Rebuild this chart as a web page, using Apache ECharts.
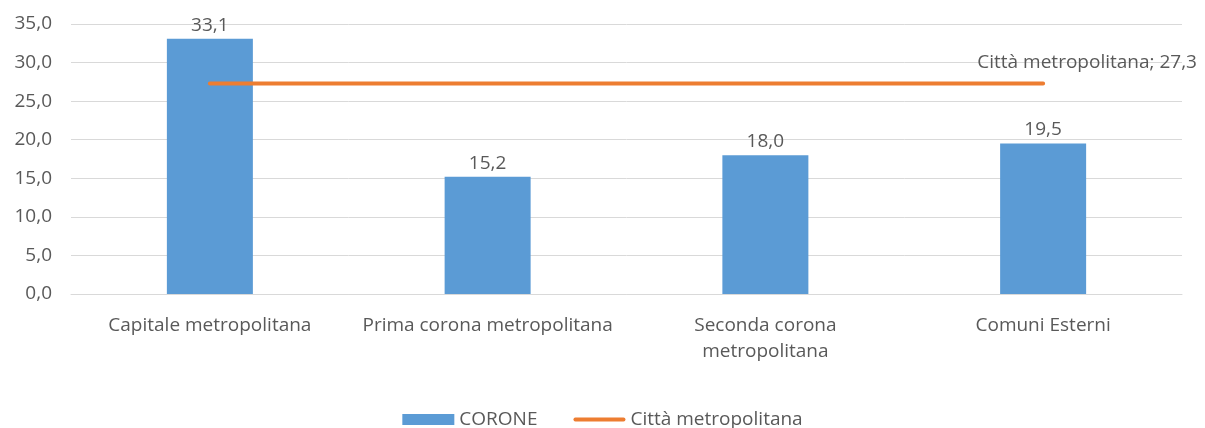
<!DOCTYPE html>
<html>
<head>
<meta charset="utf-8">
<script src="https://cdn.jsdelivr.net/npm/echarts@6/dist/echarts.min.js"></script>
<style>
html,body{margin:0;padding:0;background:#fff;}
#chart1{width:1205px;height:428px;}
</style>
</head>
<body>
<div id="chart1"></div>
<script>
// categorie e valori
var categorie = ['Capitale metropolitana', 'Prima corona metropolitana', 'Seconda corona\nmetropolitana', 'Comuni Esterni'];
var corone = [33.1, 15.2, 18.0, 19.5];
var cittaMetro = [27.3, 27.3, 27.3, 27.3];
var yTicks = [0, 5, 10, 15, 20, 25, 30, 35];

function virgola(v) {
    return Number(v).toFixed(1).replace('.', ',');
}

(function () {
    var myChart = echarts.init(document.querySelector("#chart1"));
    var fontName = 'Open Sans';
    var fs = 19;
    var grigio = '#595959';
    //solo l'ultimo punto ha l'etichetta
    var lineData = cittaMetro.map(function (v, i) {
        if (i === cittaMetro.length - 1) {
            return {
                value: v,
                label: {
                    show: true,
                    position: 'top',
                    offset: [44, -6],
                    color: grigio,
                    fontSize: fs,
                    fontFamily: fontName,
                    formatter: function (p) { return 'Città metropolitana; ' + virgola(p.value); }
                }
            };
        }
        return v;
    });
    option = {
        animation: false,
        textStyle: {fontFamily: fontName, color: grigio},
        grid: {
            left: 71,
            right: 23,
            top: 24,
            bottom: 134,
            containLabel: false
        },
        legend: {
            top: 405,
            left: 'center',
            itemGap: 36,
            itemWidth: 52,
            itemHeight: 11,
            textStyle: {color: grigio, fontSize: fs, fontFamily: fontName},
            data: [
                {name: 'CORONE', icon: 'rect'},
                {name: 'Città metropolitana', icon: 'path://M2,0 L53,0 A2,2 0 0 1 53,4 L2,4 A2,2 0 0 1 2,0 Z'}
            ]
        },
        xAxis: {
            type: 'category',
            data: categorie,
            axisLine: {lineStyle: {color: '#D9D9D9'}},
            axisTick: {show: false},
            axisLabel: {
                color: grigio,
                fontSize: fs,
                fontFamily: fontName,
                margin: 19,
                lineHeight: 26,
                interval: 0
            }
        },
        yAxis: {
            type: 'value',
            min: yTicks[0],
            max: yTicks[yTicks.length - 1],
            interval: 5,
            axisLine: {show: false},
            axisTick: {show: false},
            splitLine: {lineStyle: {color: '#D9D9D9', width: 1}},
            axisLabel: {
                color: grigio,
                fontSize: fs,
                fontFamily: fontName,
                margin: 19,
                formatter: function (v) { return virgola(v); }
            }
        },
        series: [
            {
                name: 'CORONE',
                type: 'bar',
                barWidth: 86,
                data: corone,
                itemStyle: {color: '#5B9BD5'},
                label: {
                    show: true,
                    position: 'top',
                    distance: 4,
                    color: grigio,
                    fontSize: fs,
                    fontFamily: fontName,
                    formatter: function (p) { return virgola(p.value); }
                }
            },
            {
                name: 'Città metropolitana',
                type: 'line',
                data: lineData,
                symbol: 'circle',
                symbolSize: 0.1,
                lineStyle: {color: '#ED7D31', width: 4, cap: 'round'},
                itemStyle: {color: '#ED7D31'}
            }
        ]
    };
    myChart.setOption(option);
    window.addEventListener("resize", function () {
        myChart.resize();
    });
})();
</script>
</body>
</html>
